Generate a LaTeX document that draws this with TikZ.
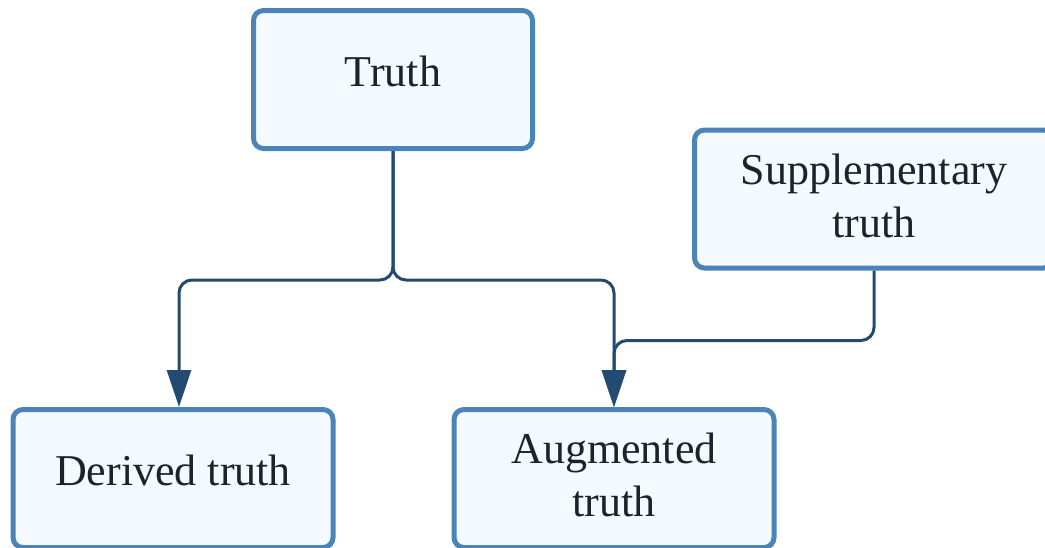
\documentclass[tikz,border=0pt]{standalone}
\usepackage{fontspec}
\setmainfont{Liberation Serif}
\usetikzlibrary{arrows.meta}
\definecolor{boxline}{HTML}{4A84B8}
\definecolor{boxfill}{HTML}{F5FAFF}
\definecolor{linkcol}{HTML}{234B72}
\definecolor{textcol}{HTML}{1F2329}
\tikzset{
  card/.style={draw=boxline, fill=boxfill, line width=5pt, rounded corners=10pt,
    align=center, text=textcol, font=\fontsize{44}{53}\selectfont,
    inner sep=0pt, minimum height=138pt},
  oneline/.style={text height=31pt, text depth=18pt},
  twoline/.style={text height=84pt, text depth=8pt},
  link/.style={draw=linkcol, line width=3pt, rounded corners=13pt,
    -{Triangle[length=37pt,width=24pt]}},
}
\begin{document}
\begin{tikzpicture}[x=1pt,y=-1pt]
  \clip (0,0) rectangle (1045,547);
  \fill[white] (0,0) rectangle (1045,547);

  \node[card, oneline, minimum width=279pt] (truth) at (393,79.5) {Truth};
  \node[card, twoline, minimum width=359pt] (supp) at (874,199) {Supplementary\\truth};
  \node[card, oneline, minimum width=320pt] (derived) at (173,478.5) {Derived truth};
  \node[card, twoline, minimum width=320pt] (augmented) at (614,478.5) {Augmented\\truth};

  \draw[link] (truth.south) -- ++(0,129) -| ([xshift=6pt]derived.north);
  \draw[link] (truth.south) -- ++(0,129) -| (augmented.north);
  \draw[link] (supp.south) -- ++(0,70) -| (augmented.north);
\end{tikzpicture}
\end{document}
